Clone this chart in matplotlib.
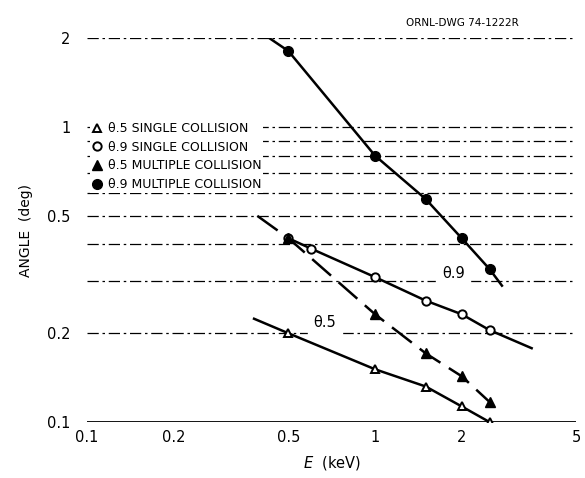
import numpy as np
import matplotlib.pyplot as plt

# Energies (keV) of the computed points
energy = [0.5, 1.0, 1.5, 2.0, 2.5]

# Angles (deg) for each case
th5_single = [0.20, 0.151, 0.132, 0.113, 0.10]
th9_single_x = [0.5, 0.6, 1.0, 1.5, 2.0, 2.5]
th9_single = [0.42, 0.387, 0.31, 0.258, 0.232, 0.205]
th5_multiple = [0.42, 0.232, 0.171, 0.143, 0.117]
th9_multiple = [1.81, 0.80, 0.57, 0.42, 0.33]

# Ends of the drawn curves (x, y)
th5_single_ends = [(0.38, 0.224), (2.5, 0.10)]
th9_single_ends = [(0.5, 0.43), (3.5, 0.178)]
th5_multiple_ends = [(0.39, 0.50), (2.5, 0.117)]
th9_multiple_ends = [(0.43, 2.0), (2.76, 0.29)]

grid_levels = [0.1, 0.2, 0.3, 0.4, 0.5, 0.6, 0.7, 0.8, 0.9, 1.0, 2.0]
xticks = [0.1, 0.2, 0.5, 1, 2, 5]
xticklabels = ['0.1', '0.2', '0.5', '1', '2', '5']
yticks = [0.1, 0.2, 0.5, 1, 2]
yticklabels = ['0.1', '0.2', '0.5', '1', '2']

fig = plt.figure(figsize=(5.85, 4.78), dpi=100)
ax = fig.add_axes([0.149, 0.117, 0.836, 0.803])
ax.set_xscale('log')
ax.set_yscale('log')
ax.set_xlim(0.1, 5)
ax.set_ylim(0.1, 2)

for lev in grid_levels:
    if lev == 0.1:
        ax.axhline(lev, color='black', lw=1.3, zorder=1)
    else:
        ax.axhline(lev, color='black', lw=0.9, dashes=(9, 3, 2, 3), zorder=1)


def curve(ends, xs, ys):
    cx = [ends[0][0]] + list(xs) + [ends[1][0]]
    cy = [ends[0][1]] + list(ys) + [ends[1][1]]
    return cx, cy


cx, cy = curve(th5_single_ends, energy, th5_single)
ax.plot(cx, cy, color='black', lw=1.8, zorder=2)
cx, cy = curve(th9_single_ends, th9_single_x, th9_single)
ax.plot(cx, cy, color='black', lw=1.8, zorder=2)
cx, cy = curve(th5_multiple_ends, energy, th5_multiple)
ax.plot(cx, cy, color='black', lw=1.8, dashes=(10, 4), zorder=2)
cx, cy = curve(th9_multiple_ends, energy, th9_multiple)
ax.plot(cx, cy, color='black', lw=1.8, zorder=2)

h1, = ax.plot(energy, th5_single, ls='none', marker='^', ms=6, mfc='white',
              mec='black', mew=1.4, zorder=3, label='θ.5 SINGLE COLLISION')
h2, = ax.plot(th9_single_x, th9_single, ls='none', marker='o', ms=6, mfc='white',
              mec='black', mew=1.4, zorder=3, label='θ.9 SINGLE COLLISION')
h3, = ax.plot(energy, th5_multiple, ls='none', marker='^', ms=6.5, color='black',
              zorder=3, label='θ.5 MULTIPLE COLLISION')
h4, = ax.plot(energy, th9_multiple, ls='none', marker='o', ms=7, color='black',
              zorder=3, label='θ.9 MULTIPLE COLLISION')

leg = ax.legend(handles=[h1, h2, h3, h4], loc='upper left',
                bbox_to_anchor=(0.0, 0.793), frameon=True, fancybox=False,
                edgecolor='none', facecolor='white', framealpha=1,
                handlelength=0.8, handletextpad=0.5, labelspacing=0.45,
                borderpad=0.15, borderaxespad=0.2,
                prop={'family': 'DejaVu Sans', 'size': 9})
leg.set_zorder(4)

ax.text(1.87, 0.32, 'θ.9', fontsize=10.5, ha='center', va='center',
        backgroundcolor='white', zorder=2.5)
ax.text(0.67, 0.218, 'θ.5', fontsize=10.5, ha='center', va='center',
        backgroundcolor='white', zorder=2.5)

ax.set_xticks(xticks)
ax.set_xticklabels(xticklabels)
ax.set_yticks(yticks)
ax.set_yticklabels(yticklabels)
ax.minorticks_off()
ax.tick_params(length=0, labelsize=10.5)
ax.tick_params(axis='y', pad=12)
ax.tick_params(axis='x', pad=6)
for s in ax.spines.values():
    s.set_visible(False)

ax.set_ylabel('ANGLE  (deg)', fontsize=10, labelpad=10)
ax.set_xlabel(r'$E$  (keV)', fontsize=10.5, labelpad=6)

fig.text(0.79, 0.952, 'ORNL-DWG 74-1222R', fontsize=7.5, ha='center', va='center')

fig.savefig('out.png', dpi=100)
